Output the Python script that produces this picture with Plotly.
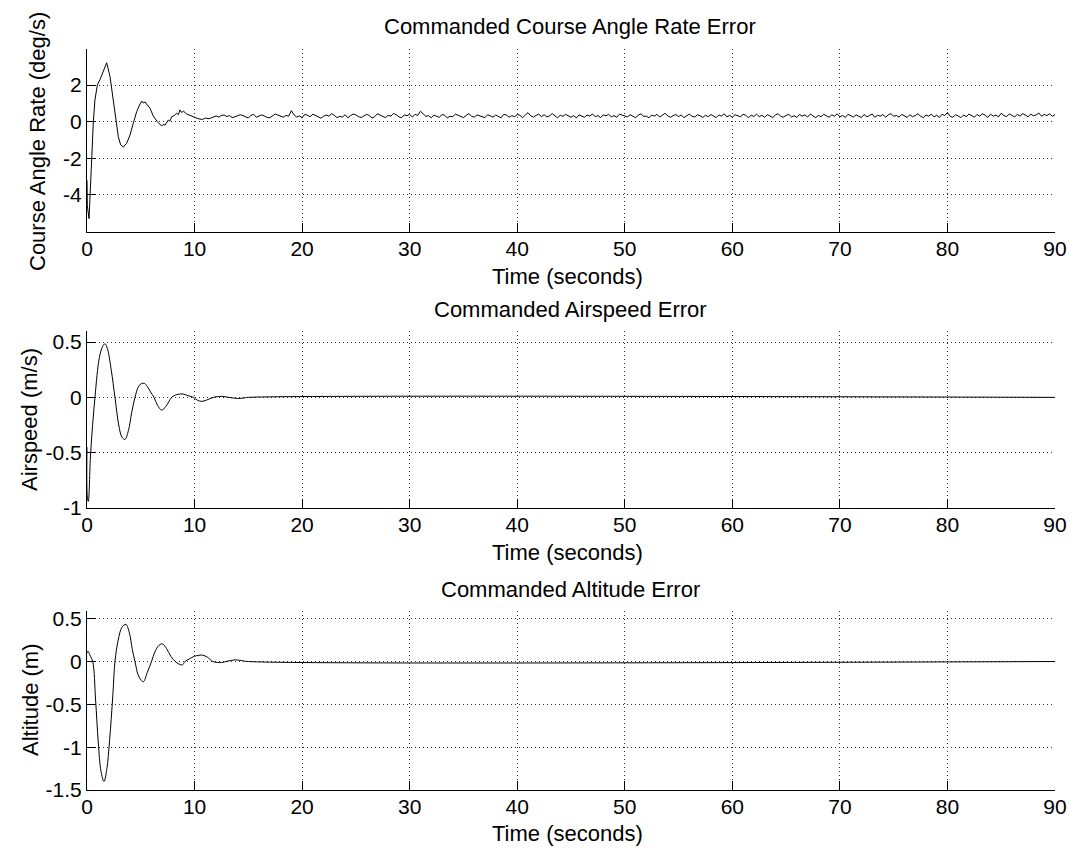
import numpy as np
import plotly.graph_objects as go

# ---------------- data ----------------
# Course angle rate error (deg/s): transient part
course_t = [0, 0.03, 0.19, 0.28, 0.43, 0.59, 0.74, 0.96, 1.21, 1.52, 1.83, 2.14, 2.45, 2.70,
            2.91, 3.13, 3.38, 3.69, 4.00, 4.30, 4.62, 4.93, 5.10, 5.23, 5.40, 5.54, 5.86, 6.16,
            6.54, 6.94, 7.10, 7.25, 7.56, 7.70, 7.88, 8.10, 8.34, 8.50, 8.65, 8.80, 8.96, 9.27,
            9.50, 9.73, 10.0]
course_v = [-3.2, -4.6, -5.3, -4.1, -2.0, 0.0, 1.19, 2.0, 2.3, 2.73, 3.22, 2.46, 1.19, 0.0,
            -0.82, -1.27, -1.39, -1.18, -0.73, -0.09, 0.55, 0.97, 1.12, 1.02, 1.08, 0.96, 0.73, 0.31,
            0.0, -0.24, -0.14, -0.2, 0.09, 0.02, 0.27, 0.33, 0.46, 0.38, 0.64, 0.5, 0.58, 0.42,
            0.36, 0.31, 0.22]
# Course angle rate error: steady noisy part, 10.25 s .. 90 s every 0.25 s
course_noise = [
    0.18, 0.14, 0.12, 0.20, 0.16, 0.19, 0.27, 0.31, 0.25, 0.34, 0.36, 0.28, 0.33, 0.22, 0.26, 0.30,
    0.38, 0.33, 0.27, 0.20, 0.35, 0.40, 0.24, 0.29, 0.37, 0.31, 0.23, 0.21, 0.32, 0.42, 0.36, 0.28,
    0.24, 0.34, 0.30, 0.60, 0.37, 0.25, 0.31, 0.22, 0.40, 0.35, 0.27, 0.41, 0.33, 0.24, 0.19, 0.30,
    0.36, 0.30, 0.44, 0.34, 0.22, 0.29, 0.25, 0.38, 0.21, 0.33, 0.42, 0.37, 0.27, 0.23, 0.31, 0.40,
    0.33, 0.20, 0.27, 0.43, 0.36, 0.28, 0.22, 0.35, 0.30, 0.45, 0.38, 0.26, 0.21, 0.37, 0.33, 0.39,
    0.25, 0.40, 0.34, 0.57, 0.42, 0.29, 0.33, 0.21, 0.36, 0.31, 0.23, 0.39, 0.35, 0.20, 0.30, 0.27,
    0.41, 0.35, 0.28, 0.22, 0.34, 0.44, 0.30, 0.24, 0.37, 0.32, 0.26, 0.22, 0.38, 0.33, 0.25, 0.36,
    0.30, 0.21, 0.40, 0.36, 0.24, 0.33, 0.27, 0.39, 0.35, 0.22, 0.36, 0.49, 0.32, 0.25, 0.34, 0.41,
    0.27, 0.38, 0.26, 0.31, 0.44, 0.33, 0.21, 0.35, 0.29, 0.40, 0.34, 0.24, 0.33, 0.20, 0.37, 0.30,
    0.24, 0.36, 0.31, 0.42, 0.27, 0.33, 0.22, 0.37, 0.32, 0.40, 0.26, 0.33, 0.24, 0.41, 0.35, 0.30,
    0.26, 0.38, 0.31, 0.22, 0.35, 0.43, 0.29, 0.30, 0.21, 0.36, 0.30, 0.40, 0.25, 0.34, 0.46, 0.31,
    0.24, 0.33, 0.39, 0.28, 0.36, 0.22, 0.30, 0.41, 0.30, 0.25, 0.37, 0.33, 0.23, 0.35, 0.27, 0.39,
    0.31, 0.22, 0.37, 0.30, 0.43, 0.26, 0.34, 0.24, 0.38, 0.32, 0.27, 0.40, 0.35, 0.21, 0.36, 0.28,
    0.41, 0.27, 0.35, 0.24, 0.38, 0.31, 0.22, 0.36, 0.44, 0.29, 0.25, 0.34, 0.40, 0.26, 0.32, 0.23,
    0.39, 0.30, 0.37, 0.25, 0.42, 0.31, 0.22, 0.34, 0.27, 0.40, 0.33, 0.24, 0.37, 0.30, 0.43, 0.26,
    0.34, 0.23, 0.40, 0.31, 0.25, 0.37, 0.29, 0.22, 0.39, 0.27, 0.33, 0.42, 0.24, 0.35, 0.30, 0.39,
    0.24, 0.37, 0.44, 0.29, 0.34, 0.25, 0.40, 0.31, 0.23, 0.38, 0.27, 0.33, 0.43, 0.30, 0.22, 0.36,
    0.30, 0.41, 0.26, 0.35, 0.23, 0.40, 0.33, 0.50, 0.29, 0.24, 0.38, 0.31, 0.22, 0.37, 0.27, 0.42,
    0.33, 0.24, 0.39, 0.30, 0.43, 0.36, 0.23, 0.41, 0.30, 0.36, 0.26, 0.46, 0.33, 0.28, 0.42, 0.35,
    0.26, 0.40, 0.30, 0.44, 0.37, 0.27, 0.41, 0.32, 0.37, 0.47, 0.29, 0.40, 0.33, 0.43, 0.29, 0.38,
]
course_noise_t = list(np.round(np.arange(10.25, 90.001, 0.25), 2))

# Airspeed error (m/s)
air_t = [0, 0.03, 0.12, 0.34, 0.74, 1.15, 1.45, 1.67, 1.90, 2.25, 2.60, 2.95, 3.25, 3.53,
         3.85, 4.15, 4.46, 4.80, 5.05, 5.33, 5.60, 5.90, 6.23, 6.55, 6.94, 7.35, 7.87,
         8.35, 8.89, 9.40, 9.90, 10.25, 10.66, 11.10, 11.60, 12.00, 12.50, 13.20, 14.00,
         14.60, 15.00, 90.0]
air_v = [-0.45, -0.90, -0.94, -0.50, 0.0, 0.36, 0.46, 0.485, 0.44, 0.25, 0.0, -0.25, -0.36, -0.38,
         -0.30, -0.14, 0.0, 0.10, 0.124, 0.127, 0.10, 0.05, 0.0, -0.07, -0.115, -0.08, 0.0,
         0.025, 0.031, 0.015, 0.0, -0.025, -0.036, -0.025, -0.005, 0.005, 0.009, 0.0, -0.01,
         -0.005, 0.0, 0.0]

# Altitude error (m)
alt_t = [0, 0.10, 0.25, 0.53, 0.80, 1.05, 1.30, 1.58, 1.85, 2.10, 2.40, 2.60, 2.90, 3.25,
         3.62, 3.95, 4.20, 4.46, 4.80, 5.23, 5.60, 6.00, 6.30, 6.70, 7.03, 7.40, 7.80,
         8.20, 8.55, 8.89, 9.10, 9.50, 10.00, 10.40, 10.75, 11.20, 11.70, 12.10, 12.50,
         13.10, 13.80, 14.40, 15.00, 90.0]
alt_v = [0.10, 0.12, 0.08, 0.0, -0.45, -0.95, -1.28, -1.40, -1.25, -0.92, -0.40, 0.0, 0.25, 0.40,
         0.433, 0.33, 0.15, 0.0, -0.17, -0.236, -0.13, 0.0, 0.11, 0.19, 0.205, 0.15, 0.06,
         0.0, -0.03, -0.039, 0.0, 0.03, 0.062, 0.072, 0.075, 0.05, 0.0, -0.01, -0.012,
         0.005, 0.02, 0.01, 0.0, 0.0]

x_ticks = [0, 10, 20, 30, 40, 50, 60, 70, 80, 90]
x_tick_text = ["0", "10", "20", "30", "40", "50", "60", "70", "80", "90"]
titles = ["Commanded Course Angle Rate Error", "Commanded Airspeed Error", "Commanded Altitude Error"]
y_labels = ["Course Angle Rate (deg/s)", "Airspeed (m/s)", "Altitude (m)"]
x_label = "Time (seconds)"
y_ticks = [[-4, -2, 0, 2], [-1, -0.5, 0, 0.5], [-1.5, -1, -0.5, 0, 0.5]]
y_tick_text = [["-4", "-2", "0", "2"], ["-1", "-0.5", "0", "0.5"], ["-1.5", "-1", "-0.5", "0", "0.5"]]
y_ranges = [[-6.03, 3.97], [-1.0, 0.6], [-1.5, 0.59]]

# ---------------- figure ----------------
# The page body margin is removed by post_script, so the figure sits at page (0, 0).
OFF = 0
W, H = 1070, 857
PAGE_L, PAGE_R, PAGE_T, PAGE_B = 87, 1055, 49, 790   # plot block in page pixels
ML = PAGE_L - OFF
MT = PAGE_T - OFF
PW = PAGE_R - PAGE_L
PH = PAGE_B - PAGE_T
MR = W - ML - PW
MB = H - MT - PH

def py(p):  # page pixel row -> paper y
    return (PAGE_B - p) / PH

def px(p):  # page pixel column -> paper x
    return (p - PAGE_L) / PW

# axis pixel extents in page coordinates (top, bottom) and y-label centre
extents = [(49, 232), (331, 508), (611, 790)]
ylabel_x = [38, 30, 30]
ylabel_y = [142, 420, 700]

FONT = "Liberation Sans, Arial, sans-serif"
fig = go.Figure()

series = [
    (list(course_t) + course_noise_t, list(course_v) + course_noise),
    (air_t, air_v),
    (alt_t, alt_v),
]
shapes = ["linear", "spline", "spline"]

for i, (xs, ys) in enumerate(series):
    sfx = "" if i == 0 else str(i + 1)
    fig.add_trace(go.Scatter(x=xs, y=ys, mode="lines",
                             line=dict(color="black", width=1, shape=shapes[i]),
                             xaxis="x" + sfx, yaxis="y" + sfx, showlegend=False,
                             hoverinfo="skip"))
    top, bot = extents[i]
    axis_common = dict(showline=True, linecolor="black", linewidth=1,
                       ticks="inside", ticklen=9, tickwidth=1, tickcolor="black",
                       showgrid=True, gridcolor="#333333", gridwidth=1, griddash="1px,3px",
                       zeroline=False, tickfont=dict(family=FONT, size=21, color="black"),
                       mirror=False, automargin=False)
    fig.layout["xaxis" + sfx] = dict(axis_common, domain=[0, 1], range=[0, 90],
                                      tickvals=x_ticks, ticktext=x_tick_text,
                                      ticklabelstandoff=-2, anchor="y" + sfx)
    fig.layout["yaxis" + sfx] = dict(axis_common, domain=[py(bot), py(top)],
                                      range=y_ranges[i], tickvals=y_ticks[i],
                                      ticktext=y_tick_text[i], anchor="x" + sfx)
    fig.add_annotation(text=titles[i], xref="paper", yref="paper",
                       x=px(570), y=py(top - 22), xanchor="center", yanchor="middle",
                       showarrow=False, font=dict(family=FONT, size=22, color="black"))
    fig.add_annotation(text=x_label, xref="paper", yref="paper",
                       x=px(567), y=py(bot + 44), xanchor="center", yanchor="middle",
                       showarrow=False, font=dict(family=FONT, size=22, color="black"))
    fig.add_annotation(text=y_labels[i], xref="paper", yref="paper",
                       x=px(ylabel_x[i]), y=py(ylabel_y[i]), xanchor="center", yanchor="middle",
                       textangle=-90, showarrow=False,
                       font=dict(family=FONT, size=22, color="black"))

fig.update_layout(width=W, height=H, margin=dict(l=ML, r=MR, t=MT, b=MB, autoexpand=False),
                  paper_bgcolor="white", plot_bgcolor="white", autosize=False)

fig.write_html("out.html",
               config={"displayModeBar": False, "responsive": False},
               post_script="document.body.style.margin='0px';document.body.style.overflow='hidden';")
